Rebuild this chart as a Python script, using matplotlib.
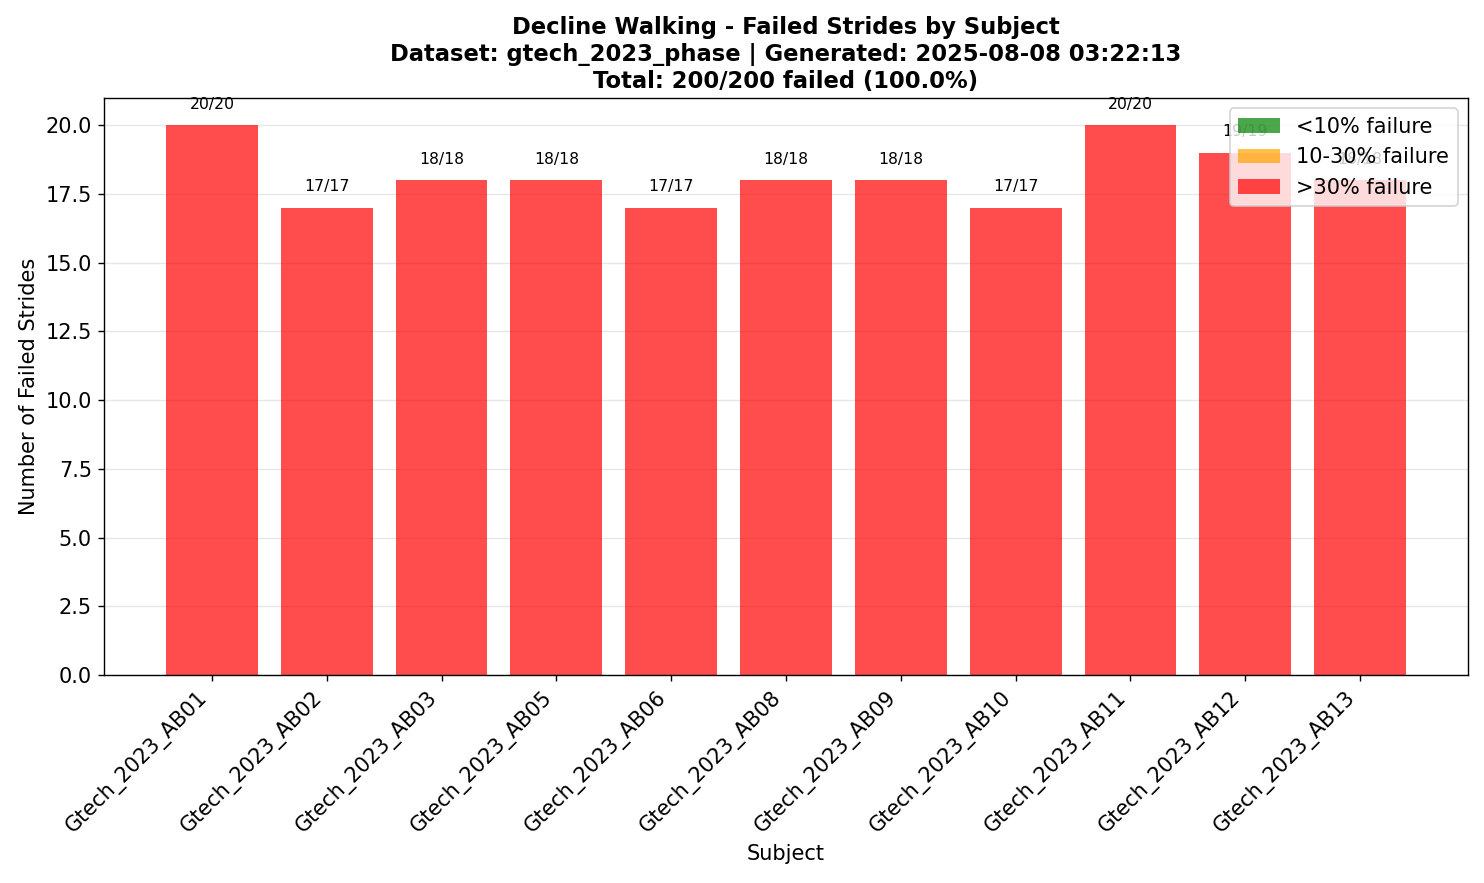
import matplotlib
matplotlib.use("Agg")
import matplotlib.pyplot as plt
from matplotlib.patches import Patch

subjects = ["Gtech_2023_AB01", "Gtech_2023_AB02", "Gtech_2023_AB03", "Gtech_2023_AB05",
            "Gtech_2023_AB06", "Gtech_2023_AB08", "Gtech_2023_AB09", "Gtech_2023_AB10",
            "Gtech_2023_AB11", "Gtech_2023_AB12", "Gtech_2023_AB13"]
failed = [20, 17, 18, 18, 17, 18, 18, 17, 20, 19, 18]
total = [20, 17, 18, 18, 17, 18, 18, 17, 20, 19, 18]

def color_for(f, t):
    r = f / t
    if r < 0.1:
        return "green"
    elif r < 0.3:
        return "orange"
    return "red"

colors = [color_for(f, t) for f, t in zip(failed, total)]

fig = plt.figure(figsize=(14.84 / 1.25, 8.83 / 1.25), dpi=125)
ax = fig.add_axes([0.0701, 0.2356, 0.9191, 0.6535])
x = range(len(subjects))
bars = ax.bar(x, failed, color=colors, alpha=0.7)
for b, f, t in zip(bars, failed, total):
    ax.text(b.get_x() + b.get_width() / 2, b.get_height() + 0.5, f"{f}/{t}",
            ha="center", va="bottom", fontsize=9)
ax.set_xticks(list(x))
ax.set_xticklabels(subjects, rotation=45, ha="right", fontsize=12)
ax.tick_params(axis="y", labelsize=12)
ax.set_ylim(0, 21)
ax.grid(axis="y", alpha=0.3)
ax.set_axisbelow(True)
ax.set_xlabel("Subject", fontsize=12)
ax.set_ylabel("Number of Failed Strides", fontsize=12)
ax.set_title("Decline Walking - Failed Strides by Subject\n"
             "Dataset: gtech_2023_phase | Generated: 2025-08-08 03:22:13\n"
             "Total: 200/200 failed (100.0%)", fontsize=13, fontweight="bold")
handles = [Patch(facecolor="green", alpha=0.7, label="<10% failure"),
           Patch(facecolor="orange", alpha=0.7, label="10-30% failure"),
           Patch(facecolor="red", alpha=0.7, label=">30% failure")]
ax.legend(handles=handles, loc="upper right", fontsize=12)
fig.savefig("out.png", dpi=125)
